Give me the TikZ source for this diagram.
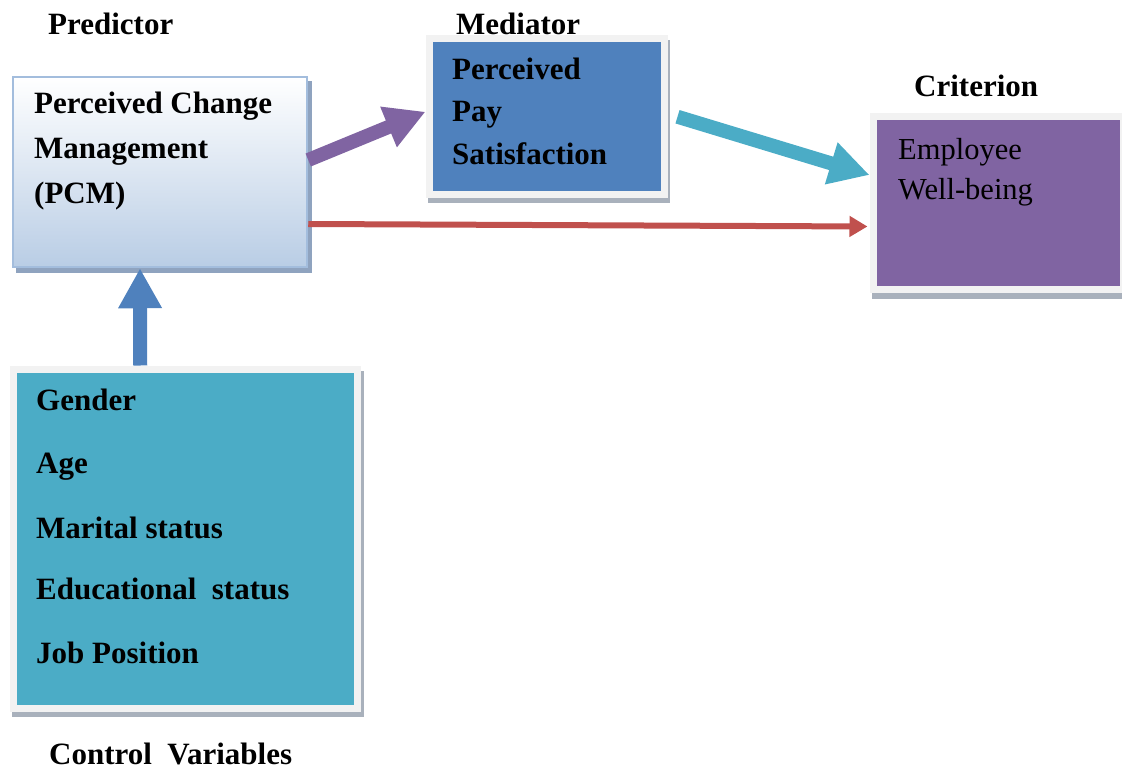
\documentclass[tikz,border=0pt]{standalone}
\usepackage{fontspec}
\setmainfont{Liberation Serif}
\usetikzlibrary{arrows.meta}
\definecolor{purp}{HTML}{8064A2}
\definecolor{cyanc}{HTML}{4BACC6}
\definecolor{redc}{HTML}{C0504D}
\definecolor{bluec}{HTML}{4F81BD}
\definecolor{framec}{HTML}{F2F2F2}
\definecolor{shad}{HTML}{A9B1BC}
\definecolor{pcmbot}{HTML}{B9CDE5}
\definecolor{pcmborder}{HTML}{A3BDDD}
\definecolor{pcmshad}{HTML}{8FA3BF}
\pgfdeclarelayer{bg}
\pgfsetlayers{bg,main}
\begin{document}
\begin{tikzpicture}[x=1pt,y=-1pt,
  framebox/.style={draw=framec, line width=7pt, inner sep=0pt},
  bt/.style={anchor=base west, inner sep=0pt, font=\fontsize{31}{31}\selectfont\bfseries},
  rt/.style={anchor=base west, inner sep=0pt, font=\fontsize{30.5}{30.5}\selectfont},
  fat/.style={line width=14pt, -{Triangle[length=40pt,width=41pt]}},
  shadowbox/.style={fill=shad}
]
\useasboundingbox (0,0) rectangle (1122,770);

% boxes
\node[draw=pcmborder, line width=2.5pt, top color=white, bottom color=pcmbot,
      minimum width=294pt, minimum height=190pt, inner sep=0pt] (pcm) at (160,172) {};
\node[framebox, fill=bluec, minimum width=235pt, minimum height=155.5pt] (med) at (546.5,116.75) {};
\node[framebox, fill=purp, minimum width=250pt, minimum height=172.5pt] (crit) at (998,203) {};
\node[framebox, fill=cyanc, minimum width=344.5pt, minimum height=339.5pt] (ctrl) at (185.25,538.75) {};

% shadows
\begin{pgfonlayer}{bg}
\fill[pcmshad] ([shift={(4pt,-5pt)}]pcm.south west) rectangle ([shift={(4pt,-5pt)}]pcm.north east);
\fill[shadowbox] ([shift={(2.5pt,-5pt)}]med.south west) rectangle ([shift={(2.5pt,-5pt)}]med.north east);
\fill[shadowbox] ([shift={(2.5pt,-6pt)}]crit.south west) rectangle ([shift={(2.5pt,-6pt)}]crit.north east);
\fill[shadowbox] ([shift={(2.5pt,-5pt)}]ctrl.south west) rectangle ([shift={(2.5pt,-5pt)}]ctrl.north east);
\end{pgfonlayer}

% headings
\node[bt] (predl) at (48,35) {Predictor};
\node[bt] (medl) at (456,35) {Mediator};
\node[bt] (critl) at (914,97) {Criterion};
\node[bt] (ctrll) at (49,764) {Control\ \ Variables};

% PCM text
\node[bt] (p1) at (34,114) {Perceived Change};
\node[bt] (p2) at (34,159) {Management};
\node[bt] (p3) at (34,204) {(PCM)};

% Mediator text
\node[bt] (m1) at (452,80) {Perceived};
\node[bt] (m2) at (452,122) {Pay};
\node[bt] (m3) at (452,165) {Satisfaction};

% Criterion text
\node[rt] (c1) at (898,160) {Employee};
\node[rt] (c2) at (898,200) {Well-being};

% Control text
\node[bt] (v1) at (36,410) {Gender};
\node[bt] (v2) at (36,473) {Age};
\node[bt] (v3) at (36,538) {Marital status};
\node[bt] (v4) at (36,599) {Educational\ \ status};
\node[bt] (v5) at (36,663) {Job Position};

% arrows
\draw[fat, purp] ([yshift=12pt]pcm.east) -- ([yshift=5pt]med.west);
\draw[fat, cyanc] ([xshift=10pt]med.east) -- ([yshift=28pt]crit.west);
\draw[redc, line width=6pt, -{Triangle[length=18pt,width=20pt]}]
  ([yshift=-52pt]pcm.east) -- ([xshift=-2pt,yshift=-23.5pt]crit.west);
\draw[fat, bluec] ([xshift=-45pt]ctrl.north) -- ([xshift=-20pt]pcm.south);
\end{tikzpicture}
\end{document}
